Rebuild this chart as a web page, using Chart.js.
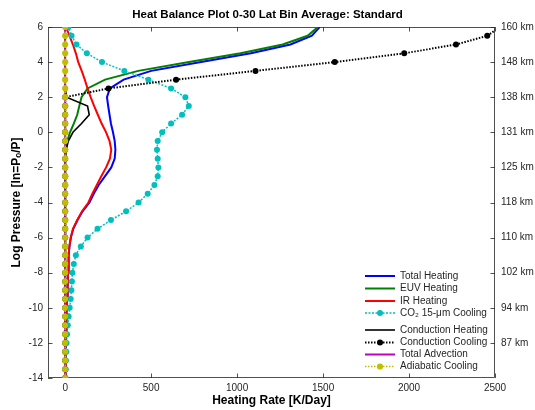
<!DOCTYPE html>
<html><head><meta charset="utf-8">
<script src="https://cdn.jsdelivr.net/npm/chart.js@4.4.1/dist/chart.umd.min.js"></script>
<style>html,body{margin:0;padding:0;background:#fff}#wrap{width:535px;height:410px}</style>
</head><body><div id="wrap"><canvas id="c" width="535" height="410"></canvas></div>
<script>
// ---- data (log pressure levels, bottom to top) ----
const logPressure = [-14,-13.5,-13,-12.5,-12,-11.5,-11,-10.5,-10,-9.5,-9,-8.5,-8,-7.5,-7,-6.5,-6,-5.5,-5,-4.5,-4,-3.5,-3,-2.5,-2,-1.5,-1,-0.5,0,0.5,1,1.5,2,2.5,3,3.5,4,4.5,5,5.5,6];

const totalHeating = [1,1,2,3,4,5,6,8,10,12,14,15,17,19,21,25,33,47,72,101,141,166,195,232,268,288,292,288,278,266,258,250,243,260,340,500,790,1080,1310,1435,1480];
const euvHeating   = [0,0,0,0,0,0,0,0,0,0,0,0,0,0,0,0,0,0,0,0,0,0,0,1,1,2,4,12,28,50,70,82,95,130,232,425,720,1020,1265,1410,1470];
const irHeating    = [1,1,2,3,4,5,6,8,10,12,14,15,17,19,21,24,32,45,70,98,135,158,184,210,238,260,268,258,238,212,190,168,148,130,114,96,76,62,45,25,5];
const co2Cooling   = [2,3,4,6,8,11,15,20,26,32,36,39,42,50,62,91,130,188,266,354,427,480,519,538,542,538,534,538,564,616,680,719,699,616,484,344,214,126,66,37,20];
const condHeating  = [0,0,0,0,0,0,0,0,0,0,0,0,0,0,0,0,0,0,0,0,0,0,0,0,0,1,6,18,45,95,140,130,8,0,0,0,0,0,0,0,0];
const condCooling  = [0,0,0,0,0,0,0,0,0,0,0,0,0,0,0,0,0,0,0,0,0,0,0,0,0,0,0,0,0,0,0,0,0,252,645,1107,1568,1972,2273,2455,2530];
const totalAdvection = [0,0,0,0,0,0,0,0,0,0,0,0,0,0,0,0,0,0,0,0,0,0,0,0,0,0,0,0,0,0,0,0,0,0,0,0,0,0,0,0,0];
const adiabaticCooling = [0,0,0,0,0,0,0,0,0,0,0,0,0,0,0,0,0,0,0,0,0,0,0,0,0,0,0,0,0,0,0,0,0,0,0,0,0,0,0,0,0];

const xTicks = [0,500,1000,1500,2000,2500];
const yTicks = [-14,-12,-10,-8,-6,-4,-2,0,2,4,6];
const altTicks  = [6,4,2,0,-2,-4,-6,-8,-10,-12];
const altLabels = ['160 km','148 km','138 km','131 km','125 km','118 km','110 km','102 km','94 km','87 km'];

const seriesNames = ['Total Heating','EUV Heating','IR Heating','CO\u2082 15-\u03bcm Cooling','Conduction Heating','Conduction Cooling','Total Advection','Adiabatic Cooling'];

// ---- chart ----
Chart.defaults.font.family = "'Liberation Sans', Arial, Helvetica, sans-serif";
Chart.defaults.color = '#262626';

function pts(vals){ return vals.map((v,i)=>({x:v,y:logPressure[i]})); }

const styles = [
  {color:'#0000ff', width:2, dash:[], r:0, order:8},
  {color:'#008000', width:2, dash:[], r:0, order:7},
  {color:'#ff0000', width:2, dash:[], r:0, order:6},
  {color:'#00bfbf', width:1.5, dash:[2,1.5], r:3, order:5},
  {color:'#000000', width:1.6, dash:[], r:0, order:4},
  {color:'#000000', width:2, dash:[1.5,1.5], r:3, order:3, clip:0},
  {color:'#bf00bf', width:2, dash:[], r:0, order:2},
  {color:'#bfbf00', width:1.5, dash:[1.5,1.5], r:3.1, order:1}
];
const allSeries = [totalHeating,euvHeating,irHeating,co2Cooling,condHeating,condCooling,totalAdvection,adiabaticCooling];

const datasets = allSeries.map((vals,k)=>{
  const s = styles[k];
  const d = {
    label: seriesNames[k], data: pts(vals), showLine:true,
    borderColor:s.color, backgroundColor:s.color, borderWidth:s.width, borderDash:s.dash,
    pointRadius:s.r, pointBackgroundColor:s.color, pointBorderColor:s.color, pointBorderWidth:0,
    pointHoverRadius:s.r, tension:0, order:s.order, xAxisID:'x', yAxisID:'y'
  };
  if (s.clip !== undefined) d.clip = s.clip;
  return d;
});

const framePlugin = {
  id:'frame',
  beforeDatasetsDraw(chart){
    const {ctx, chartArea:a, scales} = chart;
    ctx.save();
    ctx.strokeStyle = '#262626'; ctx.lineWidth = 0.8;
    ctx.strokeRect(a.left+0.5, a.top+0.5, a.right-a.left-1, a.bottom-a.top-1);
    const L = 4.5;
    ctx.beginPath();
    xTicks.forEach(v=>{ const p = Math.round(scales.x.getPixelForValue(v))+0.5;
      ctx.moveTo(p,a.bottom); ctx.lineTo(p,a.bottom-L); ctx.moveTo(p,a.top); ctx.lineTo(p,a.top+L); });
    yTicks.forEach(v=>{ const p = Math.round(scales.y.getPixelForValue(v))+0.5;
      ctx.moveTo(a.left,p); ctx.lineTo(a.left+L,p); });
    altTicks.forEach(v=>{ const p = Math.round(scales.y2.getPixelForValue(v))+0.5;
      ctx.moveTo(a.right,p); ctx.lineTo(a.right-L,p); });
    ctx.stroke();
    ctx.restore();
  }
};

const legendPlugin = {
  id:'insideLegend',
  afterDatasetsDraw(chart){
    const {ctx, chartArea:a} = chart;
    const offs = [102, 89.5, 77, 65, 48, 35.5, 23.5, 11.5];
    const x0 = a.right - 130, x1 = a.right - 100, tx = a.right - 95;
    ctx.save();
    ctx.font = "10px 'Liberation Sans', Arial, sans-serif";
    ctx.textBaseline = 'middle'; ctx.textAlign = 'left';
    seriesNames.forEach((name,k)=>{
      const s = styles[k]; const y = a.bottom - offs[k];
      ctx.strokeStyle = s.color; ctx.lineWidth = s.width; ctx.setLineDash(s.dash);
      ctx.beginPath(); ctx.moveTo(x0,y); ctx.lineTo(x1,y); ctx.stroke();
      ctx.setLineDash([]);
      if (s.r>0){ ctx.fillStyle = s.color; ctx.beginPath(); ctx.arc((x0+x1)/2,y,s.r,0,Math.PI*2); ctx.fill(); }
      ctx.fillStyle = '#262626';
      ctx.fillText(name, tx, y);
    });
    ctx.restore();
  }
};

new Chart(document.getElementById('c'), {
  type:'scatter',
  data:{datasets},
  options:{
    responsive:false, animation:false, devicePixelRatio:1,
    layout:{padding:0},
    plugins:{
      legend:{display:false}, tooltip:{enabled:false},
      title:{display:true, text:'Heat Balance Plot 0-30 Lat Bin Average: Standard',
        color:'#000', font:{size:11.5, weight:'bold'}, padding:{top:8,bottom:5.2}}
    },
    scales:{
      x:{type:'linear', position:'bottom', min:-100, max:2500,
        afterBuildTicks:s=>{ s.ticks = xTicks.map(v=>({value:v})); },
        afterFit:s=>{ s.height = 32; },
        grid:{display:false, drawTicks:false}, border:{display:false},
        ticks:{font:{size:10}, padding:4, maxRotation:0, callback:v=>String(v)},
        title:{display:true, text:'Heating Rate [K/Day]', color:'#000', font:{size:12, weight:'bold'}, padding:{top:0,bottom:2}}
      },
      y:{type:'linear', position:'left', min:-14, max:6,
        afterBuildTicks:s=>{ s.ticks = yTicks.map(v=>({value:v})); },
        afterFit:s=>{ s.width = 48; },
        grid:{display:false, drawTicks:false}, border:{display:false},
        ticks:{font:{size:10}, padding:5, callback:v=>String(v)},
        title:{display:true, text:'Log Pressure [ln=P\u2092/P]', color:'#000', font:{size:12, weight:'bold'}, padding:{top:9,bottom:0}}
      },
      y2:{type:'linear', position:'right', min:-14, max:6,
        afterBuildTicks:s=>{ s.ticks = altTicks.map(v=>({value:v})); },
        afterFit:s=>{ s.width = 40; },
        grid:{display:false, drawTicks:false}, border:{display:false},
        ticks:{font:{size:10}, padding:6, callback:v=>{ const i = altTicks.indexOf(v); return i>=0 ? altLabels[i] : ''; }}
      }
    }
  },
  plugins:[framePlugin, legendPlugin]
});
</script>
</body></html>
